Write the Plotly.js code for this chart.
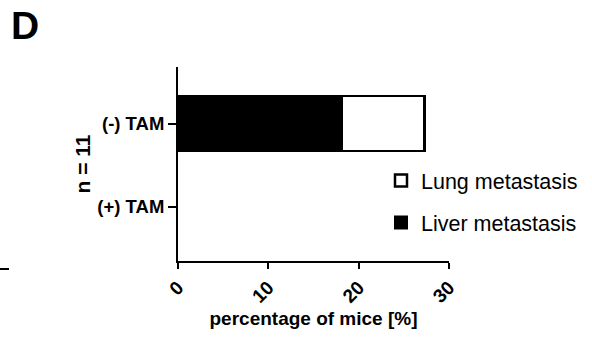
<!DOCTYPE html>
<html>
<head>
<meta charset="utf-8">
<script src="https://cdn.plot.ly/plotly-3.0.1.min.js"></script>
<style>
html,body{margin:0;padding:0;background:#fff;}
#chart{width:592px;height:344px;}
</style>
</head>
<body>
<div id="chart"></div>
<script>
const categories = ['(-) TAM', '(+) TAM'];
const categoryOrder = ['(+) TAM', '(-) TAM'];
const liverValues = [18.18, 0];
const lungValues = [9.09, 0];
const xTickValues = [0, 10, 20, 30];
const xTickLabels = ['0', '10', '20', '30'];

const F = 'Liberation Sans, Arial, sans-serif';

const traces = [
  {
    type: 'bar', orientation: 'h', name: 'Liver metastasis', legendgroup: 'liver', legendrank: 2,
    y: categories, x: liverValues, width: 0.66,
    marker: {color: '#000000', line: {color: '#000000', width: [2, 0]}},
    hoverinfo: 'none'
  },
  {
    type: 'bar', orientation: 'h', name: 'Lung metastasis', legendgroup: 'lung', legendrank: 1,
    y: categories, x: lungValues, width: 0.66,
    marker: {color: '#ffffff', line: {color: '#000000', width: [2.5, 0]}},
    hoverinfo: 'none'
  }
];

const layout = {
  width: 592, height: 344,
  margin: {l: 178, r: 143, t: 67, b: 83, pad: 0, autoexpand: false},
  paper_bgcolor: '#fff', plot_bgcolor: '#fff',
  barmode: 'stack',
  showlegend: true,
  legend: {
    x: (381 - 178) / 271, xanchor: 'left', y: (261 - 160) / 194, yanchor: 'top',
    traceorder: 'grouped',
    bgcolor: 'rgba(0,0,0,0)',
    font: {family: F, size: 21.5, color: '#000'},
    tracegroupgap: 11
  },
  xaxis: {
    range: [0, 30], tickvals: xTickValues, ticktext: xTickLabels,
    showgrid: false, zeroline: false, showline: true,
    linecolor: '#000', linewidth: 2,
    ticks: 'outside', ticklen: 6, tickwidth: 2, tickcolor: '#000',
    tickangle: -45,
    tickfont: {family: F, size: 19, color: '#000', weight: 'bold'},
    title: {text: '<b>percentage of mice [%]</b>', font: {family: F, size: 19, color: '#000'}, standoff: 6},
    fixedrange: true
  },
  yaxis: {
    type: 'category', categoryorder: 'array', categoryarray: categoryOrder,
    range: [-0.647, 1.677],
    showgrid: false, zeroline: false, showline: true,
    linecolor: '#000', linewidth: 2,
    ticks: 'outside', ticklen: 8, tickwidth: 2, tickcolor: '#000',
    tickfont: {family: F, size: 18.5, color: '#000', weight: 'bold'},
    title: {text: '<b>n = 11</b>', font: {family: F, size: 21, color: '#000'}, standoff: 1},
    fixedrange: true
  },
  annotations: [
    {text: '<b>D</b>', xref: 'paper', yref: 'paper', x: (9 - 178) / 271, y: (261 - 2) / 194,
     xanchor: 'left', yanchor: 'top', showarrow: false,
     font: {family: F, size: 39, color: '#000'}}
  ],
  shapes: [
    {type: 'line', xref: 'paper', yref: 'paper', x0: -178 / 271, x1: -169 / 271,
     y0: -8 / 194, y1: -8 / 194, line: {color: '#000', width: 2}}
  ]
};

Plotly.newPlot('chart', traces, layout, {displayModeBar: false, staticPlot: true});
</script>
</body>
</html>
